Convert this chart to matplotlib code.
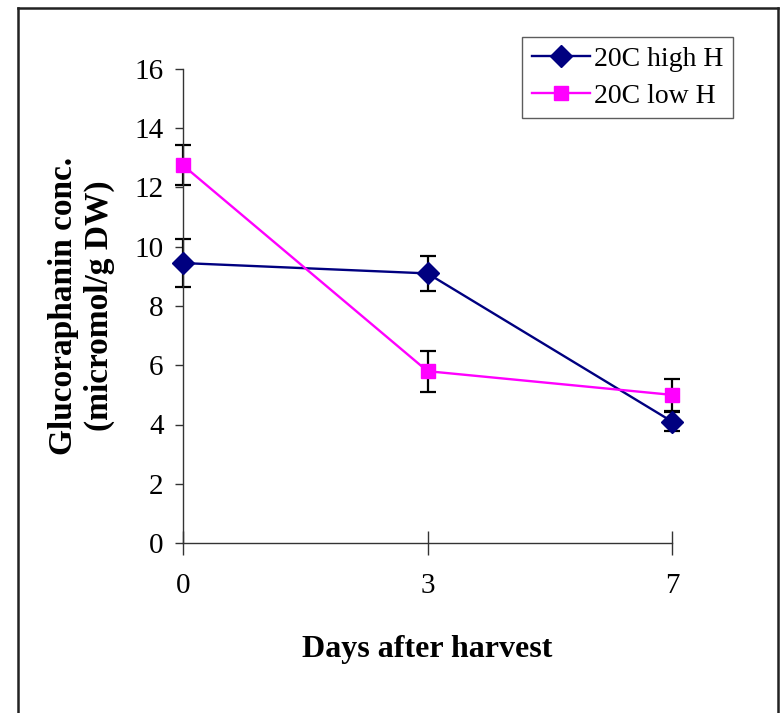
import numpy as np
import matplotlib
matplotlib.use('Agg')
import matplotlib.pyplot as plt
from matplotlib.lines import Line2D

# dados
dias = ['0', '3', '7']
alto_h = [9.45, 9.1, 4.1]
alto_h_erro = [0.8, 0.6, 0.33]
baixo_h = [12.75, 5.8, 5.0]
baixo_h_erro = [0.68, 0.69, 0.55]
rotulos = ['20C high H', '20C low H']

plt.rcParams['font.family'] = ['Liberation Serif', 'DejaVu Serif']

W, H = 781, 713
fig = plt.figure(figsize=(W / 100, H / 100), dpi=100)
ax = fig.add_axes([183 / W, 1 - 543 / H, (672 - 183) / W, (543 - 69) / H])

x = np.arange(len(dias))

# barras de erro
for serie, erro in [(alto_h, alto_h_erro), (baixo_h, baixo_h_erro)]:
    cont = ax.errorbar(x, serie, yerr=erro, fmt='none', ecolor='black',
                       elinewidth=1.6, capsize=6, capthick=1.6, zorder=2)
    for parte in cont.get_children():
        parte.set_clip_on(False)

# linhas
ax.plot(x, alto_h, color='#000080', lw=1.7, marker='D', markersize=11,
        label=rotulos[0], zorder=3, clip_on=False)
ax.plot(x, baixo_h, color='#FF00FF', lw=1.7, marker='s', markersize=10,
        label=rotulos[1], zorder=3, clip_on=False)

ax.set_xlim(0, 2)
ax.set_ylim(0, 16)
ax.set_xticks(x)
ax.set_xticklabels(dias)
ax.set_yticks(np.arange(0, 17, 2))

for s in ['top', 'right']:
    ax.spines[s].set_visible(False)
for s in ['left', 'bottom']:
    ax.spines[s].set_color('#333333')
    ax.spines[s].set_linewidth(1.0)

ax.tick_params(axis='x', direction='inout', length=17, width=1.0,
               color='#333333', labelsize=21, pad=13)
ax.tick_params(axis='y', direction='out', length=6, width=1.0,
               color='#333333', labelsize=21, pad=8)

ax.set_xlabel('Days after harvest', fontsize=23, fontweight='bold', labelpad=26)
ax.set_ylabel('Glucoraphanin conc.\n(micromol/g DW)', fontsize=24,
              fontweight='bold', labelpad=14, linespacing=1.2)

leg = ax.legend(loc='upper left', bbox_to_anchor=(522 / W, 1 - 37 / H),
                bbox_transform=fig.transFigure, borderaxespad=0,
                fontsize=20, frameon=True, fancybox=False, handlelength=2.1,
                handletextpad=0.15, labelspacing=0.4, borderpad=0.35)
leg.get_frame().set_edgecolor('#333333')
leg.get_frame().set_linewidth(1.0)

# moldura externa
cor = '#222222'
fig.add_artist(Line2D([18 / W, 18 / W], [0, 1 - 8 / H], transform=fig.transFigure, color=cor, lw=1.8))
fig.add_artist(Line2D([18 / W, 778 / W], [1 - 8 / H, 1 - 8 / H], transform=fig.transFigure, color=cor, lw=1.8))
fig.add_artist(Line2D([778 / W, 778 / W], [0, 1 - 8 / H], transform=fig.transFigure, color=cor, lw=1.8))

fig.savefig('out.png', dpi=100)
